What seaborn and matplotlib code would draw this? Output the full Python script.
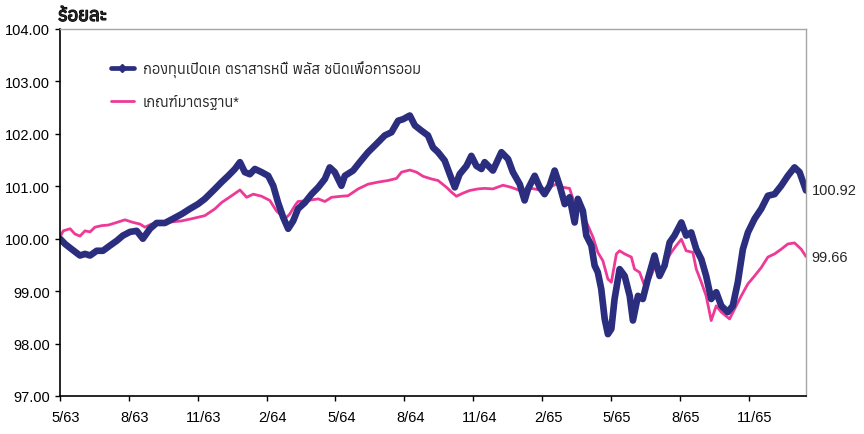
import numpy as np
import matplotlib
matplotlib.use("Agg")
import matplotlib.pyplot as plt
import matplotlib.patheffects as pe
import matplotlib.transforms as mtransforms
import seaborn as sns
from matplotlib import font_manager
from matplotlib.ft2font import FT2Font
from matplotlib.lines import Line2D

# --- ข้อมูล (อ่านค่าจากภาพ, แกน x = เดือนนับจาก 5/63) ---
fund_name = "กองทุนเปิดเค ตราสารหนี้ พลัส ชนิดเพื่อการออม"
bench_name = "เกณฑ์มาตรฐาน*"
y_title = "ร้อยละ"

tick_months = [0, 3, 6, 9, 12, 15, 18, 21, 24, 27, 30]
tick_labels = ["5/63", "8/63", "11/63", "2/64", "5/64", "8/64",
               "11/64", "2/65", "5/65", "8/65", "11/65"]

fund_x = [0.00, 0.22, 0.51, 0.87, 1.09, 1.31, 1.60, 1.87, 2.18, 2.47,
          2.74, 3.05, 3.34, 3.61, 3.92, 4.21, 4.57, 4.92, 5.30, 5.66,
          6.01, 6.31, 6.75, 7.04, 7.33, 7.62, 7.84, 8.05, 8.27, 8.49,
          8.78, 9.07, 9.29, 9.50, 9.72, 9.94, 10.16, 10.37, 10.67, 10.96,
          11.25, 11.54, 11.75, 11.97, 12.26, 12.41, 12.77, 13.06, 13.42, 13.79,
          14.15, 14.44, 14.73, 14.95, 15.24, 15.46, 15.75, 16.03, 16.25, 16.47,
          16.76, 16.98, 17.20, 17.41, 17.71, 17.92, 18.14, 18.36, 18.50, 18.86,
          19.23, 19.52, 19.73, 20.03, 20.24, 20.39, 20.68, 20.90, 21.11, 21.33,
          21.55, 21.77, 21.99, 22.20, 22.42, 22.56, 22.78, 22.93, 23.15, 23.29,
          23.43, 23.58, 23.73, 23.87, 24.02, 24.16, 24.38, 24.60, 24.82, 24.96,
          25.18, 25.39, 25.61, 25.90, 26.12, 26.34, 26.56, 26.77, 27.07, 27.28,
          27.50, 27.72, 27.94, 28.15, 28.37, 28.59, 28.81, 29.09, 29.31, 29.53,
          29.75, 29.97, 30.26, 30.55, 30.84, 31.13, 31.42, 31.71, 32.00, 32.22,
          32.50]
fund_val = [100.00, 99.90, 99.80, 99.68, 99.71, 99.68, 99.77, 99.77, 99.87, 99.96,
            100.06, 100.13, 100.15, 100.00, 100.19, 100.30, 100.30, 100.38, 100.47, 100.57,
            100.66, 100.76, 100.95, 101.08, 101.20, 101.33, 101.46, 101.27, 101.23, 101.33,
            101.27, 101.20, 101.01, 100.69, 100.41, 100.19, 100.34, 100.57, 100.69, 100.85,
            100.98, 101.14, 101.36, 101.27, 101.01, 101.20, 101.30, 101.46, 101.65, 101.81,
            101.97, 102.03, 102.25, 102.28, 102.35, 102.16, 102.06, 101.97, 101.74, 101.65,
            101.49, 101.23, 100.98, 101.23, 101.39, 101.58, 101.39, 101.33, 101.46, 101.30,
            101.65, 101.52, 101.27, 101.04, 100.73, 100.95, 101.20, 100.98, 100.85, 101.01,
            101.30, 101.01, 100.66, 100.79, 100.31, 100.76, 100.53, 100.06, 99.87, 99.49,
            99.36, 99.04, 98.47, 98.18, 98.28, 98.85, 99.42, 99.29, 98.91, 98.44,
            98.91, 98.85, 99.23, 99.68, 99.29, 99.49, 99.93, 100.06, 100.31, 100.06,
            100.12, 99.80, 99.61, 99.29, 98.85, 98.98, 98.72, 98.60, 98.72, 99.17,
            99.80, 100.12, 100.38, 100.57, 100.82, 100.85, 101.01, 101.20, 101.36, 101.27,
            100.92]

bench_x = [0.00, 0.14, 0.44, 0.65, 0.87, 1.09, 1.31, 1.52, 1.82, 2.10,
           2.47, 2.83, 3.19, 3.48, 3.70, 3.99, 4.43, 4.86, 5.30, 5.73,
           6.31, 6.75, 7.04, 7.48, 7.84, 8.13, 8.42, 8.78, 9.14, 9.43,
           9.80, 10.01, 10.23, 10.37, 10.81, 11.25, 11.54, 11.83, 12.26, 12.55,
           12.99, 13.42, 13.86, 14.29, 14.66, 14.88, 15.24, 15.53, 15.82, 16.18,
           16.47, 16.84, 17.05, 17.27, 17.56, 17.85, 18.21, 18.50, 18.86, 19.30,
           19.66, 20.03, 20.24, 20.54, 20.90, 21.19, 21.62, 21.91, 22.20, 22.42,
           22.71, 23.00, 23.22, 23.43, 23.65, 23.87, 24.02, 24.24, 24.38, 24.60,
           24.89, 25.03, 25.25, 25.47, 25.69, 25.90, 26.12, 26.34, 26.63, 26.85,
           27.07, 27.28, 27.57, 27.72, 27.94, 28.15, 28.37, 28.59, 28.81, 29.17,
           29.39, 29.68, 29.97, 30.26, 30.55, 30.84, 31.13, 31.42, 31.71, 32.00,
           32.29, 32.50]
bench_val = [100.03, 100.15, 100.19, 100.09, 100.05, 100.15, 100.13, 100.22, 100.25, 100.26,
             100.31, 100.36, 100.31, 100.28, 100.22, 100.28, 100.31, 100.32, 100.34, 100.38,
             100.44, 100.57, 100.69, 100.82, 100.93, 100.79, 100.85, 100.81, 100.73, 100.53,
             100.38, 100.47, 100.63, 100.71, 100.73, 100.76, 100.71, 100.79, 100.81, 100.82,
             100.95, 101.04, 101.08, 101.11, 101.15, 101.27, 101.31, 101.27, 101.19, 101.14,
             101.11, 100.98, 100.89, 100.81, 100.87, 100.92, 100.95, 100.96, 100.95, 101.02,
             100.98, 100.92, 100.87, 100.96, 100.93, 100.96, 101.04, 100.98, 100.96, 100.66,
             100.53, 100.25, 100.03, 99.74, 99.58, 99.23, 99.17, 99.71, 99.77, 99.71,
             99.65, 99.42, 99.36, 99.10, 99.23, 99.45, 99.36, 99.52, 99.74, 99.87,
             99.99, 99.77, 99.74, 99.42, 99.17, 98.91, 98.44, 98.72, 98.60, 98.47,
             98.66, 98.91, 99.14, 99.29, 99.45, 99.65, 99.71, 99.80, 99.90, 99.92,
             99.80, 99.66]

fund_color = "#2b2e7e"
bench_color = "#ee3a96"

sns.set_theme(style="ticks")

# หาฟอนต์ที่มีอักษรไทย
thai_font = None
for f in sorted(font_manager.fontManager.ttflist, key=lambda f: f.name):
    try:
        if 0x0E01 in FT2Font(f.fname).get_charmap():
            thai_font = f.name
            break
    except Exception:
        pass
families = ["Liberation Sans"] + ([thai_font] if thai_font else []) + ["DejaVu Sans"]
plt.rcParams["font.family"] = families

fig = plt.figure(figsize=(8.64, 4.35), dpi=100)
ax = fig.add_axes([60/864, 1 - 397/435, 746/864, 367/435])

sns.lineplot(x=bench_x, y=bench_val, ax=ax, color=bench_color, linewidth=2.0)
sns.lineplot(x=fund_x, y=fund_val, ax=ax, color=fund_color, linewidth=4.8)

ax.set_xlim(0, 32.5)
ax.set_ylim(97, 104)
ax.set_yticks(np.arange(97, 104.01, 1))
ax.set_yticklabels([f"{v:.2f}" for v in np.arange(97, 104.01, 1)])
ax.set_xticks(tick_months)
ax.set_xticklabels(tick_labels)
ax.tick_params(axis="both", labelsize=10.5, colors="black", length=3.6, width=1,
               direction="out")
ax.tick_params(axis="x", pad=6.5)
ax.tick_params(axis="y", pad=3.5)
ax.set_xlabel("")
ax.set_ylabel("")
ax.grid(False)

# ป้ายแกน x เลื่อนไปทางขวาเล็กน้อยเหมือนต้นฉบับ
shift = mtransforms.ScaledTranslation(6/100, 0, fig.dpi_scale_trans)
for lbl in ax.get_xticklabels():
    lbl.set_transform(lbl.get_transform() + shift)

for s in ["left", "bottom"]:
    ax.spines[s].set_color("black")
    ax.spines[s].set_linewidth(1.2)
for s in ["top", "right"]:
    ax.spines[s].set_color("#a6a6a6")
    ax.spines[s].set_linewidth(1.0)

# ป้ายค่าสุดท้าย
ax.annotate(f"{fund_val[-1]:.2f}", xy=(fund_x[-1], fund_val[-1]),
            xytext=(4, 0), textcoords="offset points", va="center", ha="left",
            fontsize=10.5, annotation_clip=False)
ax.annotate(f"{bench_val[-1]:.2f}", xy=(bench_x[-1], bench_val[-1]),
            xytext=(4, 0), textcoords="offset points", va="center", ha="left",
            fontsize=10.5, annotation_clip=False)

handles = [
    Line2D([], [], color=fund_color, linewidth=3.4, marker="D", markersize=4),
    Line2D([], [], color=bench_color, linewidth=2.0),
]
ax.legend(handles, [fund_name, bench_name], loc="upper left",
          bbox_to_anchor=(0.068, 0.915), frameon=False, fontsize=10.5,
          handlelength=1.6, handletextpad=0.6, labelspacing=1.15,
          borderpad=0, borderaxespad=0)

fig.text(58/864, 1 - 22/435, y_title, fontsize=13.5, fontweight="bold",
         ha="left", va="baseline",
         path_effects=[pe.withStroke(linewidth=0.9, foreground="black")])

fig.savefig("out.png", dpi=100)
